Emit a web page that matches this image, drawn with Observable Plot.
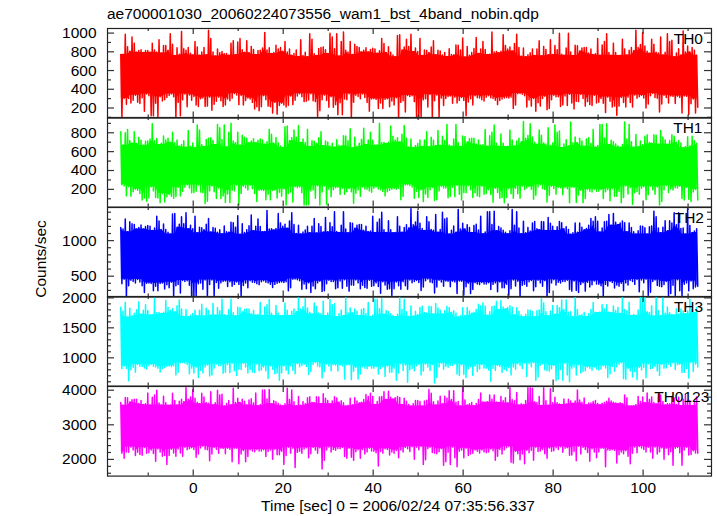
<!DOCTYPE html>
<html>
<head>
<meta charset="utf-8">
<script src="https://cdn.jsdelivr.net/npm/d3@7"></script>
<script src="https://cdn.jsdelivr.net/npm/@observablehq/plot@0.6"></script>
<style>
  html, body { margin: 0; padding: 0; background: #fff; }
  #root { position: relative; width: 717px; height: 516px; overflow: hidden;
          font-family: "Liberation Sans", Arial, Helvetica, sans-serif; color: #000; }
  .lbl { position: absolute; line-height: 0; height: 0; white-space: nowrap; font-size: 15.5px; }
</style>
</head>
<body>
<div id="root"></div>
<script>
// ---------------- data ----------------
const chartTitle = "ae700001030_20060224073556_wam1_bst_4band_nobin.qdp";
const xTitle = "Time [sec] 0 = 2006/02/24 07:35:56.337";
const yTitle = "Counts/sec";
const seriesNames = ["TH0", "TH1", "TH2", "TH3", "TH0123"];
const tStart = -16.1;   // first time bin [sec]
const tStep = 0.5;      // bin width [sec]
const xMajorTicks = [0, 20, 40, 60, 80, 100];
const xMinorTicks = [-10, 10, 30, 50, 70, 90, 110];
const yDomains = [[92, 1049], [12, 962], [206, 1466], [528, 2023], [1518, 4107]];
const yMajorTicks = [[200, 400, 600, 800, 1000], [200, 400, 600, 800], [500, 1000], [1000, 1500, 2000], [2000, 3000, 4000]];
const yMinorStep = [100, 100, 100, 100, 200];

// per-bin upper (spike tip) and lower extent of each light curve
const th0Hi = [772,775,987,855,805,959,892,796,814,823,793,814,814,796,892,820,799,929,787,868,867,817,993,880,760,844,775,1017,832,817,847,784,766,911,852,763,799,846,769,1029,941,799,754,829,790,802,778,781,763,892,917,772,905,941,823,796,917,790,858,826,772,814,817,840,1005,820,844,781,793,871,829,847,805,911,799,829,763,781,820,751,929,760,796,748,993,935,778,760,835,847,852,823,781,999,959,832,993,754,911,1011,817,799,911,772,880,858,847,799,817,843,799,826,838,829,784,811,941,889,793,855,796,766,748,975,981,820,852,935,858,987,802,840,802,941,760,820,814,793,852,917,769,817,808,766,793,751,832,772,766,874,871,820,947,745,858,763,793,835,953,781,829,911,826,772,775,1011,799,802,790,805,981,868,829,852,808,889,987,847,754,840,748,769,790,829,760,829,917,757,858,826,769,929,772,867,823,999,775,763,840,999,799,760,871,865,808,841,847,847,787,829,772,778,941,763,874,911,993,793,763,892,793,760,763,935,829,766,817,846,811,1029,846,877,1005,861,805,784,935,880,796,787,959,766,796,993,911,923,748,787,832,766,1023,799,861,799,846,817,763];
const th0Lo = [92,301,239,301,254,283,337,262,248,310,164,349,331,116,116,251,110,319,274,289,313,334,349,319,92,260,116,289,349,214,340,283,322,232,217,298,307,217,220,316,176,239,271,316,277,217,233,295,277,304,355,340,236,334,232,280,307,295,260,188,214,170,214,331,289,220,214,146,260,134,226,251,232,211,229,328,236,283,328,352,319,268,271,286,352,277,268,110,170,289,340,280,208,319,208,236,128,256,128,295,289,352,86,262,337,322,298,349,313,260,164,295,298,292,194,253,194,292,298,214,274,232,310,86,260,277,158,334,322,331,268,86,86,92,289,298,211,343,86,277,340,98,307,226,301,322,328,251,316,253,280,313,280,116,265,298,233,331,310,307,289,274,316,331,310,301,283,236,280,295,307,313,307,316,194,232,352,355,346,331,211,286,220,301,164,256,220,301,325,182,194,289,337,319,319,217,233,328,226,346,253,188,271,268,343,301,220,268,236,226,337,253,262,301,251,152,316,271,211,220,122,220,313,259,211,316,259,211,340,304,319,334,307,200,242,331,355,313,304,158,242,337,313,253,328,322,248,325,313,146,328,325,128,245,295,146,208];
const th1Hi = [812,667,800,836,718,691,812,685,753,721,667,709,712,735,895,715,739,676,688,766,724,742,700,806,694,724,658,676,715,646,824,655,691,643,883,830,673,655,730,742,747,718,676,889,854,727,883,649,806,901,712,694,806,667,775,753,742,694,712,738,694,721,733,724,679,706,836,784,688,750,691,661,643,865,871,715,747,830,753,877,697,735,697,836,655,715,709,688,747,812,664,712,703,661,688,646,727,667,661,769,766,715,842,640,753,658,688,730,848,676,724,806,721,667,670,901,694,697,685,700,871,763,724,747,703,784,877,742,649,735,643,664,685,724,655,724,812,652,753,721,664,824,667,762,718,889,670,658,735,889,694,655,766,760,703,736,742,742,682,724,667,673,836,658,769,806,883,688,658,787,688,655,658,830,724,661,712,741,706,919,741,772,895,756,700,679,830,775,691,682,854,661,691,883,806,818,643,682,727,661,913,694,756,694,741,712,658,733,747,685,836,646,664,889,889,744,895,676,721,706,682,661,646,676,913,735,889,706,646,781,655,712,673,763,778,697,688,778,775,679,824,756,724,679,718,778,762,700,718,691,640,655,759,661,763,715,688];
const th1Lo = [250,235,131,229,127,175,202,190,155,87,109,75,109,226,184,115,109,59,155,66,121,146,127,106,124,223,131,178,223,247,214,163,166,181,247,172,163,50,75,184,235,175,103,214,103,131,62,151,62,190,184,247,34,157,232,217,193,244,208,155,71,190,193,187,91,148,91,187,193,109,169,127,205,34,155,172,67,229,217,226,163,34,34,38,184,193,106,238,34,172,235,42,202,121,196,217,223,146,211,148,175,208,175,54,160,193,128,226,205,202,184,169,211,226,205,196,178,131,175,190,202,208,202,211,91,127,247,250,241,226,106,181,115,196,71,151,115,196,220,83,91,184,232,214,214,112,128,223,121,241,148,87,166,163,238,196,115,163,131,121,232,148,157,196,146,63,211,166,106,115,58,115,208,154,106,211,154,106,235,199,214,229,202,95,137,226,250,208,199,67,137,232,208,148,223,217,143,220,208,59,223,220,62,140,190,59,103,199,181,172,202,181,181,199,103,175,196,79,208,127,128,178,58,115,235,151,220,42,163,178,148,211,229,91,143,232,196,149,226,34,71,196,241,166,205,193,217,214,232,103,87,223,95,71,172,199,87];
const th2Hi = [1186,1162,1303,1126,1265,1239,1226,1162,1186,1219,1162,1198,1214,1202,1142,1178,1343,1277,1154,1235,1158,1118,1094,1375,1383,1190,1231,1335,1239,1391,1166,1215,1166,1343,1110,1190,1182,1154,1231,1311,1122,1186,1174,1118,1154,1098,1206,1126,1118,1257,1253,1190,1351,1090,1239,1114,1154,1210,1359,1138,1202,1303,1198,1126,1130,1423,1162,1166,1150,1170,1383,1249,1202,1231,1174,1277,1391,1226,1102,1215,1094,1122,1150,1202,1110,1202,1311,1106,1239,1198,1122,1327,1126,1251,1194,1407,1130,1114,1215,1407,1162,1110,1253,1245,1174,1218,1226,1226,1146,1202,1126,1134,1343,1114,1257,1303,1399,1154,1114,1281,1154,1110,1114,1335,1202,1118,1186,1223,1178,1447,1223,1261,1415,1243,1170,1142,1335,1265,1158,1146,1367,1118,1158,1399,1303,1319,1094,1146,1206,1118,1439,1162,1243,1162,1223,1186,1114,1214,1231,1150,1343,1098,1122,1407,1407,1227,1415,1138,1198,1178,1146,1118,1098,1138,1439,1215,1407,1178,1098,1273,1110,1186,1134,1249,1269,1166,1154,1269,1265,1142,1327,1243,1202,1142,1194,1269,1251,1170,1194,1158,1090,1110,1247,1118,1249,1190,1154,1170,1215,1311,1273,1335,1273,1122,1178,1265,1273,1367,1215,1383,1257,1227,1249,1277,1253,1126,1247,1186,1126,1094,1138,1206,1202,1182,1094,1194,1206,1415,1335,1178,1110,1190,1281,1138,1281,1247,1391,1222,1391,1170,1178,1094,1447,1214,1114,1134,1166];
const th2Lo = [394,457,200,367,442,427,403,454,418,365,270,400,403,397,295,358,295,397,403,319,379,337,415,200,365,382,265,439,427,436,373,200,200,205,394,403,316,448,200,382,445,210,412,331,406,427,433,356,421,358,385,418,385,225,370,403,338,436,415,412,394,379,421,436,415,406,388,341,385,400,412,418,412,421,295,337,457,460,451,436,316,391,325,406,270,361,325,406,430,285,295,394,442,424,424,322,338,433,331,451,358,290,376,373,448,406,325,373,341,331,442,358,367,406,356,260,421,376,316,325,230,325,418,364,316,421,364,316,445,409,424,439,412,300,347,436,460,418,409,265,347,442,418,358,433,427,353,430,418,255,433,430,235,350,400,255,313,409,391,382,412,391,391,409,313,385,406,280,418,337,338,388,230,325,445,361,430,210,373,388,358,421,439,295,353,442,406,359,436,200,270,406,451,376,415,403,427,424,442,313,290,433,300,270,382,409,290,415,347,379,433,391,388,365,220,385,361,424,412,334,376,358,400,295,406,376,442,424,385,454,280,445,409,457,230,275,427,445,370,358,353,382,424,225,255,373,230,451,295,215,388,406,295,433,325,347,358];
const th3Hi = [1843,1780,1929,1680,1829,1704,1744,1800,1936,1728,1792,1887,1788,1716,1720,1992,1752,1756,1740,1760,1957,1839,1792,1821,1764,1867,1964,1816,1692,1805,1684,1712,1740,1792,1700,1792,1894,1696,1829,1788,1712,1908,1716,1841,1784,1978,1720,1704,1805,1978,1752,1700,1843,1835,1764,1808,1816,1816,1736,1792,1716,1724,1922,1704,1847,1887,1971,1744,1704,1871,1744,1700,1704,1915,1792,1708,1776,1813,1768,2013,1813,1851,1985,1833,1760,1732,1915,1855,1748,1736,1943,1708,1748,1971,1887,1901,1684,1736,1796,1708,2006,1752,1833,1752,1813,1776,1704,1804,1821,1740,1922,1688,1712,1978,1978,1817,1985,1728,1788,1768,1736,1708,1688,1728,2006,1805,1978,1768,1688,1863,1700,1776,1724,1839,1859,1756,1744,1859,1855,1732,1908,1833,1792,1732,1784,1859,1841,1760,1784,1748,1680,1700,1837,1708,1839,1780,1744,1760,1805,1894,1863,1915,1863,1712,1768,1855,1863,1943,1805,1957,1847,1817,1839,1867,1843,1716,1837,1776,1716,1684,1728,1796,1792,1772,1684,1784,1796,1985,1915,1768,1700,1780,1871,1728,1871,1837,1964,1812,1964,1760,1768,1684,2013,1804,1704,1724,1756,1688,1736,1805,1922,1760,1756,1764,1887,1816,1887,1764,1756,1863,1788,1839,1740,2013,1805,1784,1929,1708,1724,1712,1796,2013,2013,2006,1768,1756,1867,1696,2013,1784,1700,1999,1744,1847,1752,1724,1716,1817,1732,1816,1780,1736,1780,1978,1800,1756,1841];
const th3Lo = [820,864,820,618,800,844,759,888,860,856,832,812,868,888,860,848,824,763,820,840,856,864,856,868,712,761,916,920,908,888,733,828,745,848,672,788,745,848,880,696,712,832,896,872,872,741,759,884,753,908,784,704,808,804,904,848,745,804,763,753,896,784,796,848,783,656,868,808,733,745,626,745,864,792,733,868,792,733,900,852,872,892,856,720,771,888,920,864,852,664,771,896,864,784,884,876,779,880,864,648,884,880,634,775,840,648,729,852,828,816,856,828,828,852,729,820,848,688,864,761,759,824,626,745,900,788,880,594,804,824,784,868,892,712,779,896,848,787,888,578,672,848,908,808,860,844,876,872,896,729,704,884,720,672,816,852,704,860,771,812,884,828,824,795,610,820,788,872,856,757,808,784,840,712,848,808,896,872,820,912,688,900,852,916,626,680,876,900,800,784,779,816,872,618,648,804,626,908,712,602,824,848,712,884,745,771,784,848,824,791,848,812,796,808,868,832,672,733,856,775,852,892,916,650,642,820,779,680,771,634,844,795,844,672,900,820,828,856,779,704,888,824,836,892,856,912,804,884,892,753,757,820,664,920,771,896,848];
const th0123Hi = [3645,3565,3790,3780,3660,3725,3735,3735,3615,3705,3585,3605,3922,3575,3795,3862,3996,3630,3575,3825,3635,3565,3575,3910,3700,3575,3680,3740,3665,4068,3740,3800,4020,3765,3655,3610,3910,3805,3635,3620,3958,3580,3635,3996,3862,3886,3545,3615,3705,3580,4056,3645,3765,3645,3740,3680,3570,3720,3750,3630,3922,3550,3585,4008,4008,3745,4020,3610,3695,3665,3615,3575,3550,3605,4056,3730,4008,3665,3550,3815,3565,3675,3605,3785,3810,3645,3635,3810,3805,3615,3898,3765,3700,3610,3690,3810,3775,3660,3695,3640,3540,3565,3770,3580,3785,3685,3630,3655,3730,3874,3815,3910,3815,3585,3670,3805,3815,3958,3730,3972,3795,3745,3785,3820,3790,3590,3770,3680,3585,3545,3610,3705,3705,3675,3545,3690,3710,4020,3910,3665,3570,3690,3825,3610,3825,3770,3984,3730,3984,3655,3670,3545,4068,3720,3575,3605,3645,3550,3615,3730,3922,3660,3650,3665,3862,3735,3862,3660,3645,3815,3695,3785,3630,4068,3730,3695,3934,3575,3605,3585,3705,4068,4068,4056,3665,3645,3820,3560,4068,3695,3565,4044,3635,3795,3640,3600,3585,3745,3610,3735,3690,3620,3685,4008,3715,3650,3775,3580,3630,3630,3670,3700,3615,3580,3625,3645,3680,3770,3690,3655,3630,3615,3635,3610,3862,3785,3545,3540,3555,3585,3820,3670,3805,3640,3922,3730,3805,3645,3600,3886,3862,3670,3570,3605,3605,3810,3775,3590,3795,3555,3735,3874,3705,3705,3560,3640,3805];
const th0123Lo = [2176,2032,2212,2206,2356,2272,2110,2206,2142,2122,2344,2176,2194,2272,2172,1948,2302,2212,2092,2110,1854,2110,2296,2188,2092,2302,2188,2092,2350,2278,2308,2338,2284,2060,2154,2332,2380,2296,2278,1962,2154,2344,2296,2176,2326,2314,2166,2320,2296,1934,2326,2320,1876,2160,2260,1934,2086,2278,2242,2224,2284,2242,2242,2278,2086,2230,2272,2004,2296,2134,2136,2236,1854,2110,2350,2182,2320,1766,2206,2236,2176,2302,2338,2046,2166,2344,2272,2178,2332,1722,1976,2272,2362,2212,2290,2266,2314,2308,2344,2086,2032,2326,2060,1976,2224,2278,2032,2290,2154,2218,2326,2242,2236,2190,1810,2230,2182,2308,2284,2128,2212,2176,2260,2046,2272,2212,2344,2308,2230,2368,2004,2350,2278,2374,1854,1990,2314,2350,2200,2176,2166,2224,2308,1832,1934,2206,1854,2362,2046,1788,2236,2272,2046,2326,2110,2154,2176,2272,2236,2184,2272,2218,2194,2212,2302,2248,1976,2092,2284,2160,2278,2338,2374,1920,1898,2230,2166,1990,2154,1876,2266,2190,2266,1976,2350,2230,2242,2284,2166,2032,2332,2236,2254,2338,2284,2368,2206,2326,2338,2122,2128,2230,1962,2380,2154,2344,2284,2200,1948,2308,2212,2046,2218,2326,2320,1788,2272,2266,2290,2260,1898,2134,2212,2166,2254,2092,1876,2176,2362,2190,2374,2332,2290,2212,2350,2212,2032,2356,2154,2218,2332,2004,2326,2136,2224,1832,2320,2344,2190,1832,2272,2350,2128,2140,2254,2188,2176];

const seriesHi = [th0Hi, th1Hi, th2Hi, th3Hi, th0123Hi];
const seriesLo = [th0Lo, th1Lo, th2Lo, th3Lo, th0123Lo];

// ---------------- styling / layout ----------------
const seriesColors = ["#ff0000", "#00ff00", "#0000ff", "#00ffff", "#ff00ff"];
const W = 717, ML = 107, MR = 6;
const plotW = W - ML - MR;
const PH = 89.6;          // panel height (px)
const TOP0 = 27.6;        // top of first panel
const PAD = 12;
const xDomain = [-19.05, 115.2];
const labelDx = [-8.5, -9, -7.5, -8.3, -2.2];
const axisColor = "#333";
const fontStack = "'Liberation Sans', Arial, Helvetica, sans-serif";
const coreHalfWindow = 2;   // bins on each side used for the densely filled core

const root = document.getElementById("root");

seriesNames.forEach((name, i) => {
  const last = i === seriesNames.length - 1;
  const mb = last ? 34 : PAD;
  const hi = seriesHi[i], lo = seriesLo[i];
  const n = Math.min(hi.length, lo.length);
  // light curve: within each bin the counts swing from the bin's top to its bottom
  const pts = [];
  for (let k = 0; k < n; k++) {
    pts.push({t: tStart + k * tStep, v: hi[k]});
    pts.push({t: tStart + (k + 0.5) * tStep, v: lo[k]});
  }
  // densely filled core: the range that every sample in neighbouring bins crosses
  const core = d3.range(n).map(k => {
    const a = Math.max(0, k - coreHalfWindow), b = Math.min(n, k + coreHalfWindow + 1);
    return {t: tStart + (k + 0.25) * tStep, y1: d3.max(lo.slice(a, b)), y2: d3.min(hi.slice(a, b))};
  });
  const [d0, d1] = yDomains[i];
  const step = yMinorStep[i];
  const majors = yMajorTicks[i];
  const minors = d3.range(Math.ceil(d0 / step) * step, d1, step).filter(v => !majors.includes(v));
  const tk = {stroke: axisColor, strokeWidth: 1.2};

  const marks = [
    Plot.areaY(core, {x: "t", y1: "y1", y2: "y2", fill: seriesColors[i], clip: true}),
    Plot.lineY(pts, {x: "t", y: "v", stroke: seriesColors[i], strokeWidth: 1.5, clip: true}),
    // y ticks, inward, both sides
    Plot.tickY(majors, {y: d => d, insetRight: plotW - 7, ...tk}),
    Plot.tickY(majors, {y: d => d, insetLeft: plotW - 7, ...tk}),
    Plot.tickY(minors, {y: d => d, insetRight: plotW - 4, ...tk}),
    Plot.tickY(minors, {y: d => d, insetLeft: plotW - 4, ...tk}),
    // x ticks, inward, top and bottom
    Plot.tickX(xMajorTicks, {x: d => d, insetBottom: PH - 6, ...tk}),
    Plot.tickX(xMajorTicks, {x: d => d, insetTop: PH - 6, ...tk}),
    Plot.tickX(xMinorTicks, {x: d => d, insetBottom: PH - 3, ...tk}),
    Plot.tickX(xMinorTicks, {x: d => d, insetTop: PH - 3, ...tk}),
    Plot.axisY(majors, {tickSize: 0, tickPadding: 11, tickFormat: d => String(d), fill: "#000"}),
    Plot.text([name], {text: d => d, frameAnchor: "top-right", textAnchor: "end", lineAnchor: "top",
                       dx: labelDx[i], dy: 4.7, fontSize: 15.5, fill: "#000"}),
    Plot.frame({stroke: "#222", strokeWidth: 1.2})
  ];
  if (last) marks.push(Plot.axisX(xMajorTicks, {tickSize: 0, tickPadding: 6, tickFormat: d => String(d), fill: "#000"}));

  const svg = Plot.plot({
    width: W,
    height: PH + PAD + mb,
    marginLeft: ML, marginRight: MR, marginTop: PAD, marginBottom: mb,
    x: {domain: xDomain, axis: null, label: null},
    y: {domain: yDomains[i], axis: null, label: null},
    style: {background: "transparent", fontFamily: fontStack, fontSize: "15.5px", color: "#000", overflow: "visible"},
    marks
  });
  svg.style.position = "absolute";
  svg.style.left = "0px";
  svg.style.top = (TOP0 + i * PH - PAD) + "px";
  root.appendChild(svg);
});

// titles (HTML text)
function addLabel(text, css) {
  const d = document.createElement("div");
  d.className = "lbl";
  d.textContent = text;
  Object.assign(d.style, css);
  root.appendChild(d);
  return d;
}
addLabel(chartTitle, {left: "107px", top: "14.1px"});
addLabel(xTitle, {left: "198px", width: "400px", textAlign: "center", top: "505.6px"});
addLabel(yTitle, {left: "-59px", width: "200px", textAlign: "center", top: "258.5px",
                  transform: "rotate(-90deg)", transformOrigin: "50% 0"});
</script>
</body>
</html>
